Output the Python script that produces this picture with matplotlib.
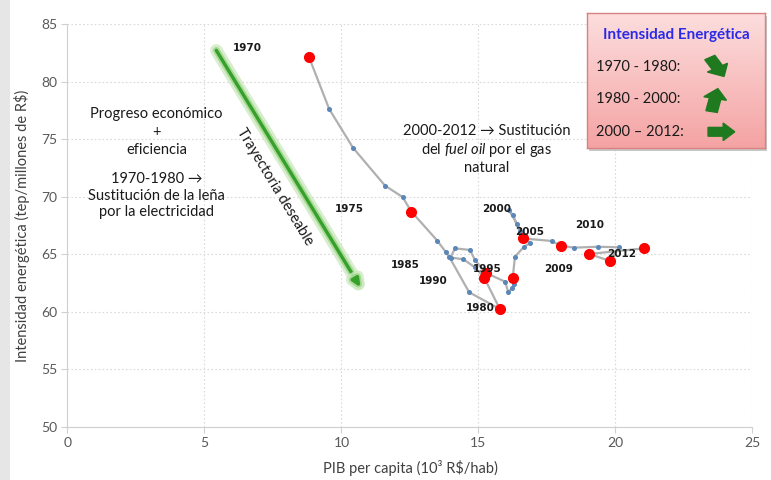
import matplotlib
matplotlib.use("Agg")
import matplotlib.pyplot as plt
import numpy as np
from matplotlib.patches import FancyArrow, Rectangle
import matplotlib.patheffects as pe

plt.rcParams['font.family'] = ['Lato', 'DejaVu Sans']
plt.rcParams['mathtext.fontset'] = 'custom'
plt.rcParams['mathtext.rm'] = 'Lato'
plt.rcParams['mathtext.it'] = 'Lato:italic'

# ---- data (path order) ----
pib = [8.81, 9.55, 10.42, 11.59, 12.23, 12.55, 13.50, 13.81, 13.93, 14.66,
       15.78, 15.21, 14.87, 14.45, 13.98, 14.14, 14.69, 14.87, 15.26, 15.97,
       16.09, 16.21, 16.30, 16.25, 16.33, 16.66, 16.88, 16.70, 16.11, 16.26,
       16.39, 16.51, 16.64, 17.67, 18.00, 18.49, 19.37, 20.14, 19.80, 19.04,
       21.04]
intensidad = [82.17, 77.63, 74.26, 70.96, 69.97, 68.71, 66.17, 65.17, 64.78, 61.69,
              60.23, 62.96, 63.86, 64.56, 64.71, 65.51, 65.37, 64.50, 63.39, 62.61,
              61.69, 62.03, 62.38, 62.96, 64.78, 65.65, 65.95, 66.45, 68.84, 68.41,
              67.60, 67.02, 66.37, 66.15, 65.74, 65.57, 65.65, 65.60, 64.41, 65.02,
              65.51]
destacados = [0, 5, 10, 11, 18, 23, 32, 34, 38, 39, 40]

year_labels = ["1970", "1975", "1980", "1985", "1990", "1995", "2000", "2005",
               "2009", "2010", "2012"]
label_x = [6.55, 10.27, 15.05, 12.32, 13.34, 15.31, 15.66, 16.87, 17.91, 19.07, 20.23]
label_y = [82.93, 68.93, 60.31, 64.06, 62.67, 63.71, 68.90, 66.90, 63.71, 67.54, 65.02]

fig = plt.figure(figsize=(7.71, 4.80), dpi=100)
fig.patch.set_facecolor('white')
fig.add_artist(Rectangle((0, 0), 10/771, 1, transform=fig.transFigure,
                         facecolor='#e6e6e6', edgecolor='none', zorder=-5))

ax = fig.add_axes([0.0875, 0.111, 0.8885, 0.8386])
ax.set_xlim(0, 25)
ax.set_ylim(50, 85)
ax.set_xticks(np.arange(0, 26, 5))
ax.set_yticks(np.arange(50, 86, 5))
ax.grid(True, color='#dadada', linestyle=(0, (1.5, 2)), linewidth=0.8)
ax.set_axisbelow(True)
for s in ['top', 'right']:
    ax.spines[s].set_visible(False)
for s in ['left', 'bottom']:
    ax.spines[s].set_color('#d0d0d0')
ax.tick_params(colors='#d0d0d0', labelcolor='#595959', labelsize=10, length=4)
ax.set_xlabel("PIB per capita (10³ R\\$/hab)", fontsize=10.5, color='#404040', labelpad=8)
ax.set_ylabel("Intensidad energética (tep/millones de R\\$)", fontsize=10.5, color='#404040', labelpad=8)

ax.plot(pib, intensidad, color='#b0b0b0', linewidth=1.6, zorder=3)
ax.plot(pib, intensidad, linestyle='none', marker='o', markersize=2.6,
        color='#5b87b8', zorder=4)
ax.plot([pib[i] for i in destacados], [intensidad[i] for i in destacados],
        linestyle='none', marker='o', markersize=7, color='#ff0000', zorder=5)

for t, x, y in zip(year_labels, label_x, label_y):
    ax.text(x, y, t, fontsize=7.5, fontweight='bold', ha='center', va='center',
            color='#1a1a1a', family=['DejaVu Sans'], zorder=6)

# green arrow (desired trajectory)
x0, y0, x1, y1 = 5.38, 82.93, 10.75, 61.89
ax.annotate('', xy=(x1, y1), xytext=(x0, y0),
            arrowprops=dict(arrowstyle='-|>,head_length=0.5,head_width=0.22',
                            color='#35a02a', lw=2.4,
                            path_effects=[pe.Stroke(linewidth=9, foreground='#cdeac0', alpha=0.8),
                                          pe.Stroke(linewidth=5, foreground='#9fd38c', alpha=0.8),
                                          pe.Normal()]), zorder=2)
ax.text(7.57, 70.9, "Trayectoria deseable", rotation=-58.7, fontsize=10.5,
        ha='center', va='center', rotation_mode='anchor', color='#1a1a1a')

ax.text(3.25, 75.6, "Progreso económico\n+\neficiencia", fontsize=10.5,
        ha='center', va='center', linespacing=1.35, color='#1a1a1a')
ax.text(3.25, 70.1, "1970-1980 →\nSustitución de la leña\npor la electricidad", fontsize=10.5,
        ha='center', va='center', linespacing=1.2, color='#1a1a1a')
ax.text(15.3, 74.1, "2000-2012 → Sustitución\ndel $\\it{fuel\\ oil}$ por el gas\nnatural",
        fontsize=10.5, ha='center', va='center', linespacing=1.2, color='#1a1a1a')

# info box top right
bx0, by0, bw, bh = 587/771, 1 - 148/480, 178/771, 135/480
shadow = Rectangle((bx0 + 0.003, by0 - 0.006), bw, bh, transform=fig.transFigure,
                   facecolor='#c8c8c8', edgecolor='none', zorder=8)
fig.add_artist(shadow)
bax = fig.add_axes([bx0, by0, bw, bh], zorder=9)
grad = np.linspace(0, 1, 100).reshape(-1, 1)
top = np.array([0.99, 0.87, 0.87])
bot = np.array([0.96, 0.64, 0.64])
img = top + (bot - top) * grad[..., None]
bax.imshow(img, aspect='auto', extent=[0, 1, 0, 1], origin='upper')
bax.set_xlim(0, 1)
bax.set_ylim(0, 1)
bax.set_xticks([])
bax.set_yticks([])
for s in bax.spines.values():
    s.set_color('#d98080')
    s.set_linewidth(1)
bax.text(0.5, 0.84, "Intensidad Energética", fontsize=11, fontweight='bold',
         color='#2a2ae8', ha='center', va='center')
rows = ["1970 - 1980:", "1980 - 2000:", "2000 – 2012:"]
rows_y = [0.60, 0.36, 0.12]
for r, yy in zip(rows, rows_y):
    bax.text(0.05, yy, r, fontsize=10.5, color='#1a1a1a', ha='left', va='center')
arrow_dirs = [(0.08, -0.14), (0.035, 0.17), (0.15, 0.0)]
arrow_start = [(0.69, 0.67), (0.70, 0.27), (0.68, 0.12)]
for (sx, sy), (dx, dy) in zip(arrow_start, arrow_dirs):
    bax.add_patch(FancyArrow(sx, sy, dx, dy, width=0.065, head_width=0.13,
                             head_length=0.065 if dx > 0.1 else 0.075,
                             length_includes_head=True, color='#1f7a1f'))

fig.savefig("out.png", dpi=100)
